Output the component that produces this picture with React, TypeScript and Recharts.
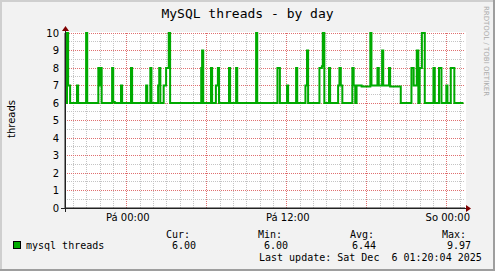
import React from 'react';
import { LineChart, Line, XAxis, YAxis, CartesianGrid, ReferenceLine } from 'recharts';

// minutes since Thursday 00:00 where the value changes (step data)
const times = [
  1163, 1171, 1176, 1185, 1216, 1221, 1257, 1262, 1312, 1317, 1321, 1327,
  1374, 1379, 1386, 1414, 1419, 1459, 1464, 1527, 1532, 1546, 1551, 1581,
  1586, 1591, 1606, 1617, 1629, 1635, 1775, 1779, 1784, 1819, 1824, 1841,
  1850, 1855, 1900, 1905, 1932, 1937, 2022, 2027, 2118, 2129, 2161, 2166,
  2202, 2207, 2244, 2251, 2256, 2307, 2318, 2322, 2329, 2350, 2355, 2391,
  2397, 2403, 2410, 2455, 2461, 2468, 2474, 2497, 2536, 2541, 2568, 2574,
  2589, 2594, 2620, 2625, 2673, 2721, 2731, 2745, 2752, 2758, 2768, 2781,
  2820, 2826, 2845, 2856, 2878, 2883, 2898, 2914, 2955,
];
const threads = [
  6, 10, 7, 6, 7, 6, 10, 6, 8, 7, 8, 6,
  8, 6.06, 6, 7, 6, 8, 6, 7, 6, 8, 6, 7,
  8, 6, 7, 8, 10, 6, 8, 9, 6, 8, 6, 7,
  8, 6, 8, 6, 8, 6, 10, 6, 8, 6, 7, 6,
  8, 6, 7, 9, 6, 8, 8.1, 10, 6, 8, 6, 7,
  8, 7, 6, 8, 7, 6, 7, 6.95, 10, 7, 8, 7,
  9, 7, 8, 6.95, 6, 8, 7, 9, 6, 8, 10, 6,
  8, 6, 8, 6, 7, 6, 8, 6, 6,
];

const xTicks = [1440, 2160, 2880];
const xTickLabels = ['Pá 00:00', 'Pá 12:00', 'So 00:00'];
const yTicks = [0, 1, 2, 3, 4, 5, 6, 7, 8, 9, 10];

const seriesName = 'mysql threads';
const statLabels = ['Cur:', 'Min:', 'Avg:', 'Max:'];
const statValues = ['6.00', '6.00', '6.44', '9.97'];
const lastUpdate = 'Last update: Sat Dec  6 01:20:04 2025';

const X_DOMAIN: [number, number] = [1162, 2962];
const Y_DOMAIN: [number, number] = [0, 10];

const data = times.map((t, i) => ({ t, v: threads[i] }));

// grid positions: minor every hour / half unit, major every 6 h / unit
const hourLines: number[] = [];
for (let m = 1200; m <= 2940; m += 60) if (m % 360 !== 0) hourLines.push(m);
const sixHourLines: number[] = [];
for (let m = 1440; m <= 2940; m += 360) sixHourLines.push(m);
const halfLines: number[] = [];
for (let v = 0.5; v < 10; v += 1) halfLines.push(v);
const unitLines: number[] = [];
for (let v = 1; v <= 10; v += 1) unitLines.push(v);

const GREEN = '#00AA00';
const MINOR = '#C4C4C4';
const MAJOR = '#E07070';
const MONO = '"DejaVu Sans Mono", monospace';
const SANS = '"DejaVu Sans", sans-serif';

const XTick = (props: any) => {
  const { x, payload } = props;
  const idx = xTicks.indexOf(payload.value);
  return (
    <text x={x + 1} y={221} textAnchor="middle" fontSize={10} fontFamily={SANS} fill="#000">
      {idx >= 0 ? xTickLabels[idx] : ''}
    </text>
  );
};

const YTick = (props: any) => {
  const { y, payload } = props;
  return (
    <text x={59} y={y} dy="0.36em" textAnchor="end" fontSize={10} fontFamily={SANS} fill="#000">
      {payload.value}
    </text>
  );
};

const layer: React.CSSProperties = { position: 'absolute', left: 0, top: 0 };

export default function App() {
  const statX = [166, 258, 350, 442];
  const valX = [172, 264, 352, 447];
  return (
    <div style={{ position: 'absolute', left: 0, top: 0, width: 495, height: 271, background: '#F2F2F2' }}>
      <svg width={495} height={271} style={layer}>
        <rect x={0} y={0} width={495} height={271} fill="#F2F2F2" />
        <rect x={0} y={0} width={495} height={2} fill="#CFCFCF" />
        <rect x={0} y={0} width={2} height={271} fill="#CFCFCF" />
        <rect x={0} y={269} width={495} height={2} fill="#9E9E9E" />
        <rect x={493} y={0} width={2} height={271} fill="#9E9E9E" />
        <rect x={65} y={32} width={401} height={176} fill="#FFFFFF" />
      </svg>
      <div style={layer}>
        <LineChart width={495} height={271} data={data} margin={{ top: 33, right: 30, bottom: 43, left: 15 }}>
          <CartesianGrid
            fill="none"
            stroke={MINOR}
            strokeDasharray="1 1"
            horizontalValues={halfLines}
            verticalValues={hourLines}
            shapeRendering="crispEdges"
          />
          {sixHourLines.map((m) => (
            <ReferenceLine
              key={'vx' + m}
              x={m}
              stroke={MAJOR}
              strokeOpacity={1}
              strokeDasharray="1 1"
              shapeRendering="crispEdges"
            />
          ))}
          {unitLines.map((v) => (
            <ReferenceLine
              key={'hy' + v}
              y={v}
              stroke={MAJOR}
              strokeOpacity={1}
              strokeDasharray="1 1"
              shapeRendering="crispEdges"
            />
          ))}
          <XAxis
            dataKey="t"
            type="number"
            domain={X_DOMAIN}
            allowDataOverflow
            ticks={xTicks}
            height={20}
            tickLine={false}
            axisLine={{ stroke: '#212121' }}
            tick={<XTick />}
            interval={0}
          />
          <YAxis
            type="number"
            domain={Y_DOMAIN}
            ticks={yTicks}
            width={50}
            tickLine={false}
            axisLine={{ stroke: '#212121' }}
            tick={<YTick />}
            interval={0}
          />
          <Line
            type="stepAfter"
            dataKey="v"
            stroke={GREEN}
            strokeWidth={2}
            dot={false}
            activeDot={false}
            isAnimationActive={false}
          />
        </LineChart>
      </div>
      <svg width={495} height={271} style={{ ...layer, pointerEvents: 'none' }}>
        <text x={247.5} y={18} textAnchor="middle" fontSize={13} fontFamily={MONO} fill="#000">
          MySQL threads - by day
        </text>
        <text
          transform="translate(15,119) rotate(-90)"
          textAnchor="middle"
          fontSize={10}
          fontFamily={SANS}
          fill="#000"
        >
          threads
        </text>
        <text
          transform="translate(484,51) rotate(90)"
          textAnchor="middle"
          fontSize={7}
          fontFamily={SANS}
          fill="#ABABAB"
        >
          RRDTOOL / TOBI OETIKER
        </text>
        {/* axis extensions and arrows */}
        <line x1={61} y1={208.5} x2={467} y2={208.5} stroke="#212121" strokeWidth={1} />
        <line x1={65.5} y1={212} x2={65.5} y2={30} stroke="#212121" strokeWidth={1} />
        <polygon points="62,31 69,31 65.5,26" fill="#800000" />
        <polygon points="466,205 466,212 471,208.5" fill="#800000" />
        {/* legend */}
        <rect x={13.5} y={241.5} width={7} height={7} fill={GREEN} stroke="#000" strokeWidth={1} />
        <text x={26} y={248.5} fontSize={10} fontFamily={MONO} fill="#000" style={{ whiteSpace: 'pre' }}>
          {seriesName}
        </text>
        {statLabels.map((s, i) => (
          <text key={s} x={statX[i]} y={237.5} fontSize={10} fontFamily={MONO} fill="#000">
            {s}
          </text>
        ))}
        {statValues.map((s, i) => (
          <text key={i} x={valX[i]} y={248.5} fontSize={10} fontFamily={MONO} fill="#000">
            {s}
          </text>
        ))}
        <text x={259} y={260.5} fontSize={10} fontFamily={MONO} fill="#000" style={{ whiteSpace: 'pre' }}>
          {lastUpdate}
        </text>
      </svg>
    </div>
  );
}
